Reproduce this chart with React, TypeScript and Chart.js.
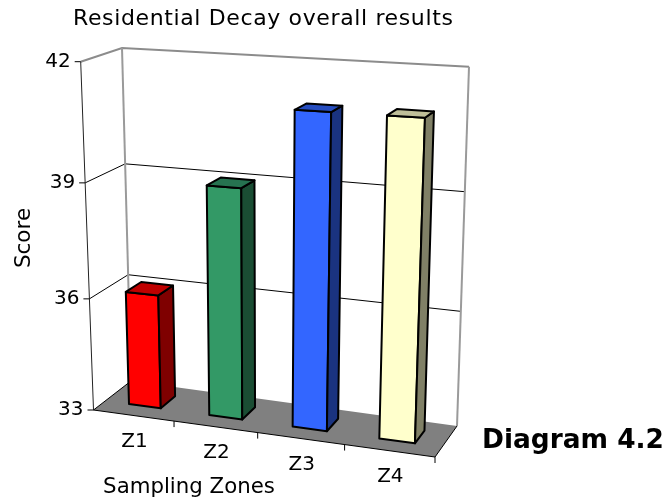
import React, { useEffect, useRef } from "react";
import { Chart, registerables } from "chart.js";

Chart.register(...registerables);

const categories = ["Z1", "Z2", "Z3", "Z4"];
const scores = [36.05, 39.0, 41.0, 41.0];
const frontColors = ["#FF0000", "#339966", "#3366FF", "#FFFFCC"];
const topColors = ["#BF0000", "#267350", "#264DBF", "#BFBF99"];
const sideColors = ["#7F0000", "#1A4D33", "#1A3380", "#808066"];
const yTicks = [33, 36, 39, 42];
const titleText = "Residential Decay overall results";
const xTitle = "Sampling Zones";
const yTitle = "Score";
const sideNote = "Diagram 4.2";

type P = [number, number];
const FLOOR: P[] = [[93.5, 410], [435, 457], [457, 426], [131, 381]];
const TOP: P[] = [[80.7, 61.7], [449, 80], [469, 66.7], [122, 48]];
const X_PERSP = 1.08;
const Y_PERSP = 1.067;
const BAR_Z: [number, number] = [0.32, 0.73];
const FONT = '"DejaVu Sans"';

const persp = (t: number, r: number) => t / (t + (1 - t) * r);
const bilinear = (q: P[], t: number, z: number): P => {
  const ax = q[0][0] + (q[1][0] - q[0][0]) * t;
  const ay = q[0][1] + (q[1][1] - q[0][1]) * t;
  const bx = q[3][0] + (q[2][0] - q[3][0]) * t;
  const by = q[3][1] + (q[2][1] - q[3][1]) * t;
  return [ax + (bx - ax) * z, ay + (by - ay) * z];
};
// t: fraction along the category axis, v: fraction along the value axis, z: depth
const project = (t: number, v: number, z: number): P => {
  const tt = persp(t, X_PERSP);
  const vv = persp(v, Y_PERSP);
  const f = bilinear(FLOOR, tt, z);
  const u = bilinear(TOP, tt, z);
  return [f[0] + (u[0] - f[0]) * vv, f[1] + (u[1] - f[1]) * vv];
};

const path = (ctx: CanvasRenderingContext2D, pts: P[], close = false) => {
  ctx.beginPath();
  pts.forEach((p, i) => (i ? ctx.lineTo(p[0], p[1]) : ctx.moveTo(p[0], p[1])));
  if (close) ctx.closePath();
};
const line = (ctx: CanvasRenderingContext2D, pts: P[], color: string, w: number) => {
  path(ctx, pts);
  ctx.strokeStyle = color;
  ctx.lineWidth = w;
  ctx.stroke();
};
const text = (
  ctx: CanvasRenderingContext2D, s: string, x: number, y: number,
  font: string, align: CanvasTextAlign, spacing = "0px",
) => {
  ctx.font = font;
  ctx.textAlign = align;
  ctx.textBaseline = "middle";
  ctx.fillStyle = "#000";
  (ctx as any).letterSpacing = spacing;
  ctx.fillText(s, x, y);
  (ctx as any).letterSpacing = "0px";
};

const scene3d = {
  id: "scene3d",
  beforeDatasetsDraw(chart: any) {
    const { ctx } = chart;
    const xs = chart.scales.x;
    const ys = chart.scales.y;
    const decimal = (value: number) => ys.getDecimalForPixel(ys.getPixelForValue(value));
    ctx.save();
    // floor
    path(ctx, FLOOR, true);
    ctx.fillStyle = "#808080";
    ctx.fill();
    // gridlines, walls
    ys.ticks.forEach((tick: any) => {
      const v = decimal(tick.value);
      if (v <= 0.001) return;
      const top = v >= 0.999;
      line(ctx, [project(0, v, 0), project(0, v, 1), project(1, v, 1)], top ? "#8C8C8C" : "#000", top ? 2 : 1);
    });
    line(ctx, [project(0, 0, 1), project(0, 1, 1)], "#9A9A9A", 2);
    line(ctx, [project(1, 0, 1), project(1, 1, 1)], "#9A9A9A", 2);
    // floor edges
    line(ctx, [project(0, 0, 1), project(0, 0, 0), project(1, 0, 0), project(1, 0, 1)], "#000", 1);
    // value axis
    line(ctx, [project(0, 0, 0), project(0, 1, 0)], "#222", 1);
    ys.ticks.forEach((tick: any) => {
      const v = decimal(tick.value);
      const p = project(0, v, 0);
      line(ctx, [[p[0] - 6, p[1]], p], "#000", 1);
      text(ctx, String(tick.value), p[0] - 10, p[1], `20px ${FONT}`, "right");
    });
    // category axis
    for (let i = 1; i <= categories.length; i++) {
      const p = project(i / categories.length, 0, 0);
      line(ctx, [p, [p[0], p[1] + 6]], "#000", 1);
    }
    categories.forEach((c, i) => {
      const t = (xs.getPixelForTick(i) - xs.left) / xs.width;
      const p = project(t, 0, 0);
      text(ctx, xs.getLabelForValue(i), p[0] + 1, p[1] + 26, `20px ${FONT}`, "center");
    });
    // titles
    text(ctx, titleText, 73, 19, `22px ${FONT}`, "left", "0.63px");
    text(ctx, xTitle, 189, 487, `21.3px ${FONT}`, "center");
    text(ctx, sideNote, 573, 441, `bold 26.4px ${FONT}`, "center");
    ctx.save();
    ctx.translate(24, 238);
    ctx.rotate(-Math.PI / 2);
    text(ctx, yTitle, 0, 0, `21.5px ${FONT}`, "center");
    ctx.restore();
    // bars
    const meta = chart.getDatasetMeta(0);
    meta.data.forEach((el: any, i: number) => {
      const { x, y, width } = el.getProps(["x", "y", "width"], true);
      const t0 = (x - width / 2 - xs.left) / xs.width;
      const t1 = (x + width / 2 - xs.left) / xs.width;
      const v = ys.getDecimalForPixel(y);
      const [z0, z1] = BAR_Z;
      const stroke = (pts: P[], fill: string) => {
        path(ctx, pts, true);
        ctx.fillStyle = fill;
        ctx.fill();
        ctx.strokeStyle = "#000";
        ctx.lineWidth = 2;
        ctx.lineJoin = "round";
        ctx.stroke();
      };
      stroke([project(t0, 0, z0), project(t1, 0, z0), project(t1, v, z0), project(t0, v, z0)], frontColors[i]);
      stroke([project(t1, 0, z0), project(t1, 0, z1), project(t1, v, z1), project(t1, v, z0)], sideColors[i]);
      stroke([project(t0, v, z0), project(t1, v, z0), project(t1, v, z1), project(t0, v, z1)], topColors[i]);
    });
    ctx.restore();
    return false;
  },
};

export default function App() {
  const ref = useRef<HTMLCanvasElement>(null);
  useEffect(() => {
    const chart = new Chart(ref.current as HTMLCanvasElement, {
      type: "bar",
      data: {
        labels: categories,
        datasets: [{ label: yTitle, data: scores, backgroundColor: frontColors, barPercentage: 0.4, categoryPercentage: 1 }],
      },
      options: {
        animation: false,
        responsive: false,
        plugins: { legend: { display: false }, tooltip: { enabled: false } },
        layout: { padding: 0 },
        scales: {
          x: { display: false, offset: true },
          y: { display: false, min: yTicks[0], max: yTicks[yTicks.length - 1], ticks: { stepSize: 3 } },
        },
      },
      plugins: [scene3d],
    } as any);
    return () => chart.destroy();
  }, []);
  return (
    <div style={{ position: "fixed", left: 0, top: 0 }}>
      <canvas ref={ref} width={667} height={502} style={{ display: "block" }} />
    </div>
  );
}
